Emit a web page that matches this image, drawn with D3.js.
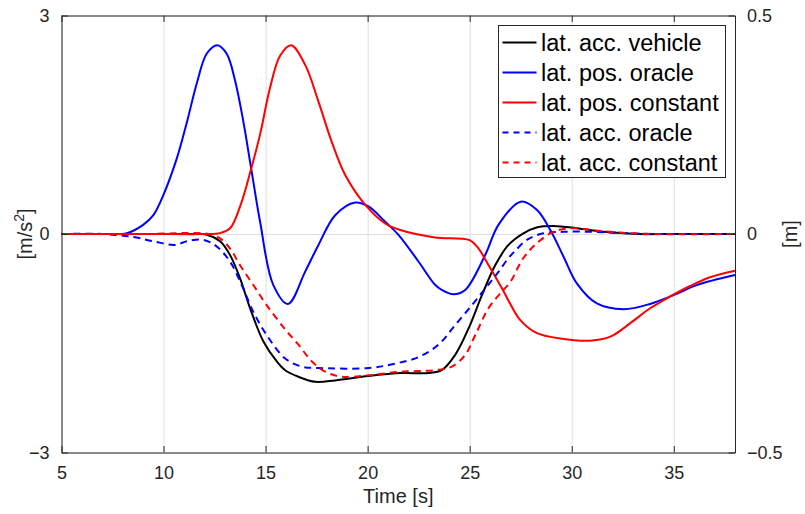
<!DOCTYPE html>
<html>
<head>
<meta charset="utf-8">
<script src="https://cdn.jsdelivr.net/npm/d3@7"></script>
<style>
  body { margin: 0; background: #fff; }
  svg { font-family: "Liberation Sans", Arial, sans-serif; }
  .axis text { fill: #262626; font-size: 18px; }
  .axis path, .axis line { stroke: #262626; }
  .grid line { stroke: #dfdfdf; }
  .grid path { display: none; }
</style>
</head>
<body>
<div id="chart"></div>
<script>
// ---- data ----
var xTicks = [5, 10, 15, 20, 25, 30, 35];
var leftTicks = [-3, 0, 3];
var rightTicks = [-0.5, 0, 0.5];

// lat. acc. vehicle  [m/s^2]
var accVehicleT = [5, 8, 11, 12.12, 12.77, 13.26, 13.75, 14.24, 14.9, 15.55, 15.96, 16.61, 17.43, 18.41, 20.04, 21.67, 22.98, 23.63, 24.29, 24.94, 25.6, 26.25, 26.9, 27.63, 28.28, 29.1, 30.25, 31.56, 33.2, 35, 38];
var accVehicle  = [0, 0, 0, -0.01, -0.10, -0.29, -0.61, -1.02, -1.48, -1.75, -1.87, -1.96, -2.03, -2.01, -1.95, -1.91, -1.91, -1.87, -1.66, -1.30, -0.84, -0.43, -0.15, 0.01, 0.09, 0.11, 0.08, 0.03, 0, 0, 0];

// lat. pos. oracle [m]
var posOracleT = [5, 7, 8.2, 9.0, 9.5, 9.99, 10.65, 11.14, 11.63, 12.12, 12.64, 13.1, 13.5, 13.9, 14.3, 14.73, 15.38, 16.1, 16.94, 17.59, 18.41, 19.39, 20.04, 20.86, 21.51, 22.49, 23.28, 23.63, 24.2, 24.78, 25.76, 26.41, 27.5, 28.3, 28.95, 29.6, 30.25, 31.23, 32.54, 33.84, 34.99, 36.13, 38];
var posOracle  = [0, 0, 0.002, 0.021, 0.043, 0.089, 0.173, 0.255, 0.345, 0.413, 0.432, 0.412, 0.352, 0.260, 0.148, 0.028, -0.117, -0.160, -0.086, -0.025, 0.043, 0.072, 0.063, 0.028, -0.002, -0.063, -0.115, -0.128, -0.138, -0.128, -0.048, 0.021, 0.074, 0.055, 0.009, -0.052, -0.113, -0.159, -0.172, -0.160, -0.140, -0.117, -0.094];

// lat. pos. constant [m]
var posConstT = [5, 9, 12, 12.77, 13.26, 13.75, 14.24, 14.73, 15.22, 15.71, 16.25, 16.94, 17.59, 18.24, 18.9, 19.95, 20.86, 21.6, 23.3, 25.0, 25.43, 25.92, 26.58, 26.99, 27.48, 28.3, 29.44, 30.91, 31.89, 32.87, 33.84, 34.82, 35.8, 36.78, 38];
var posConst  = [0, 0, 0, 0.002, 0.013, 0.063, 0.140, 0.228, 0.335, 0.408, 0.432, 0.387, 0.303, 0.211, 0.135, 0.063, 0.024, 0.009, -0.008, -0.014, -0.033, -0.071, -0.124, -0.160, -0.197, -0.227, -0.239, -0.244, -0.235, -0.204, -0.170, -0.143, -0.119, -0.099, -0.084];

// lat. acc. oracle [m/s^2]
var accOracleT = [5, 7, 8.52, 9.5, 10.56, 11.14, 11.95, 12.6, 13.26, 13.83, 14.4, 15.06, 15.96, 16.77, 17.59, 20.04, 21.35, 22.49, 23.47, 24.29, 25.1, 25.76, 26.41, 26.9, 27.2, 27.8, 28.62, 29.6, 31.07, 32.7, 34, 38];
var accOracle  = [0, 0, -0.04, -0.10, -0.15, -0.10, -0.08, -0.17, -0.38, -0.70, -1.07, -1.39, -1.71, -1.82, -1.84, -1.84, -1.78, -1.69, -1.52, -1.25, -0.98, -0.75, -0.52, -0.33, -0.24, -0.08, 0.01, 0.03, 0.03, 0.01, 0, 0];

// lat. acc. constant [m/s^2]
var accConstT = [5, 9, 12.2, 12.77, 13.26, 13.75, 14.4, 15.06, 15.96, 16.61, 17.27, 17.92, 18.74, 20.04, 21.67, 23.28, 24.13, 24.78, 25.27, 25.92, 26.58, 26.99, 27.63, 28.28, 29.1, 30.08, 31.07, 32.38, 33.8, 38];
var accConst  = [0, 0, 0, -0.06, -0.20, -0.43, -0.70, -0.98, -1.31, -1.52, -1.75, -1.89, -1.96, -1.94, -1.89, -1.87, -1.82, -1.66, -1.39, -1.02, -0.79, -0.66, -0.33, -0.13, 0.03, 0.08, 0.05, 0.02, 0, 0];

function zip(t, v) { return t.map(function(d, i) { return {t: d, v: v[i]}; }); }

var series = [
  {name: 'lat. acc. vehicle',  data: zip(accVehicleT, accVehicle), axis: 'left',  color: '#000000', dash: null},
  {name: 'lat. pos. oracle',   data: zip(posOracleT, posOracle),   axis: 'right', color: '#0000ff', dash: null},
  {name: 'lat. pos. constant', data: zip(posConstT, posConst),     axis: 'right', color: '#ff0000', dash: null},
  {name: 'lat. acc. oracle',   data: zip(accOracleT, accOracle),   axis: 'left',  color: '#0000ff', dash: '7,5'},
  {name: 'lat. acc. constant', data: zip(accConstT, accConst),     axis: 'left',  color: '#ff0000', dash: '7,5'}
];

var W = 805, H = 514;
var margin = {top: 15.5, right: 70, bottom: 61.5, left: 61.5};
var width = W - margin.left - margin.right;
var height = H - margin.top - margin.bottom;

var svg = d3.select('#chart').append('svg')
    .attr('width', W)
    .attr('height', H);

var g = svg.append('g')
    .attr('transform', 'translate(' + margin.left + ',' + margin.top + ')');

var x = d3.scaleLinear().domain([5, 38]).range([0, width]);
var yL = d3.scaleLinear().domain([-3, 3]).range([height, 0]);
var yR = d3.scaleLinear().domain([-0.5, 0.5]).range([height, 0]);

// grid
g.append('g').attr('class', 'grid')
    .attr('transform', 'translate(0,' + height + ')')
    .call(d3.axisBottom(x).tickValues(xTicks).tickSize(-height).tickFormat(''));
g.append('g').attr('class', 'grid')
    .call(d3.axisLeft(yL).tickValues(leftTicks).tickSize(-width).tickFormat(''));

// lines
series.forEach(function(s) {
    var ys = s.axis === 'left' ? yL : yR;
    var line = d3.line()
        .x(function(d) { return x(d.t); })
        .y(function(d) { return ys(d.v); })
        .curve(d3.curveCatmullRom.alpha(0.5));
    g.append('path')
        .datum(s.data)
        .attr('fill', 'none')
        .attr('stroke', s.color)
        .attr('stroke-width', 2)
        .attr('stroke-linejoin', 'round')
        .attr('stroke-dasharray', s.dash)
        .attr('d', line);
});

// axes (ticks pointing inward)
g.append('g').attr('class', 'axis')
    .attr('transform', 'translate(0,' + height + ')')
    .call(d3.axisBottom(x).tickValues(xTicks).tickSizeInner(-6.5).tickSizeOuter(0).tickPadding(14));
g.append('g').attr('class', 'axis')
    .call(d3.axisTop(x).tickValues(xTicks).tickSizeInner(-6.5).tickSizeOuter(0).tickFormat(''));
g.append('g').attr('class', 'axis')
    .call(d3.axisLeft(yL).tickValues(leftTicks).tickSizeInner(-6.5).tickSizeOuter(0).tickPadding(12)
        .tickFormat(d3.format('d')));
g.append('g').attr('class', 'axis')
    .attr('transform', 'translate(' + width + ',0)')
    .call(d3.axisRight(yR).tickValues(rightTicks).tickSizeInner(-6.5).tickSizeOuter(0).tickPadding(12)
        .tickFormat(function(d) { return d === 0 ? '0' : d3.format('.1f')(d); }));

// axis labels
svg.append('text')
    .attr('x', margin.left + width / 2)
    .attr('y', 503)
    .attr('text-anchor', 'middle')
    .attr('fill', '#262626')
    .style('font-size', '20px')
    .text('Time [s]');

var yl = svg.append('text')
    .attr('transform', 'translate(32,' + (margin.top + yL(0)) + ') rotate(-90)')
    .attr('text-anchor', 'middle')
    .attr('fill', '#262626')
    .style('font-size', '20px');
yl.append('tspan').text('[m/s');
yl.append('tspan').attr('dy', -8).style('font-size', '14px').text('2');
yl.append('tspan').attr('dy', 8).text(']');

svg.append('text')
    .attr('transform', 'translate(797,' + (margin.top + yR(0)) + ') rotate(-90)')
    .attr('text-anchor', 'middle')
    .attr('fill', '#262626')
    .style('font-size', '20px')
    .text('[m]');

// legend
var lg = svg.append('g').attr('transform', 'translate(498.5,25.5)');
lg.append('rect')
    .attr('width', 227)
    .attr('height', 152)
    .attr('fill', '#fff')
    .attr('stroke', '#262626')
    .attr('stroke-width', 1);
series.forEach(function(s, i) {
    var yy = 17 + i * 30;
    lg.append('line')
        .attr('x1', 4).attr('x2', 38)
        .attr('y1', yy).attr('y2', yy)
        .attr('stroke', s.color)
        .attr('stroke-width', 2)
        .attr('stroke-dasharray', s.dash ? '6,5' : null);
    lg.append('text')
        .attr('x', 42.5)
        .attr('y', yy)
        .attr('dy', '0.35em')
        .style('font-size', '23.5px')
        .attr('fill', '#000')
        .text(s.name);
});
</script>
</body>
</html>
